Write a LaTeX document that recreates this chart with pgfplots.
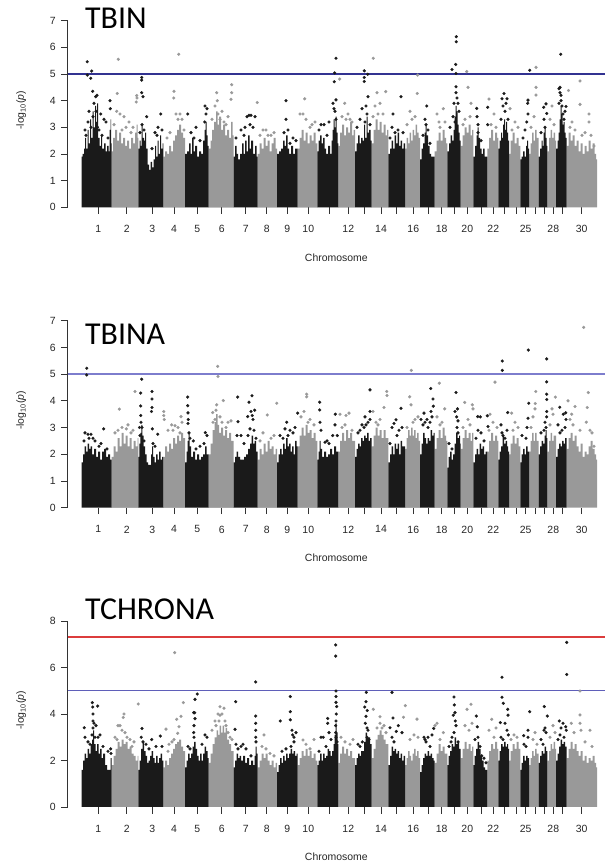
\documentclass[border=0pt]{standalone}
\usepackage{pgfplots}
\pgfplotsset{compat=1.18}
\usepackage{fontspec}
\setmainfont{Liberation Sans}
\newfontfamily\titlefont{Carlito}
\definecolor{blk}{HTML}{1A1A1A}
\definecolor{gry}{HTML}{999999}
\definecolor{bluelineA}{RGB}{50,50,145}
\definecolor{bluelineB}{RGB}{125,125,205}
\definecolor{bluelineC}{RGB}{95,95,185}
\definecolor{redlineC}{RGB}{220,60,60}
\pgfplotsset{
  manh/.style={
    scale only axis, width=537.3bp,
    xmin=67.7, xmax=605, ymin=0,
    axis x line*=bottom, axis y line*=left,
    x axis line style={draw=none},
    y axis line style={line width=0.8bp, black!80},
    xtick align=outside, ytick align=outside,
    major tick length=6.5bp,
    tick style={line width=0.8bp, black!80},
    xtick={98.3,126.7,152.3,174,197.3,221.7,245.7,266.7,287.3,308.3,329,348.3,364.3,381,396.7,413.3,428.3,441.7,454,467.3,481.7,493.3,504,516,525.7,535,544.3,553.3,562.3,581.7},
    xticklabels={1,2,3,4,5,6,7,8,9,10,,12,,14,,16,,18,,20,,22,,,25,,,28,,30},
    ticklabel style={font=\fontsize{10.5}{12}\selectfont, text=black!85},
    xticklabel style={yshift=-8bp},
    yticklabel style={xshift=-2bp},
    xlabel={Chromosome},
    ylabel={-log\textsubscript{10}(\textit{p})},
    label style={font=\fontsize{10.5}{12}\selectfont, text=black!85},
    xlabel style={at={(axis description cs:0.5,-0.268)}, anchor=center},
    ylabel style={at={(axis description cs:-0.0865,0.52)}, anchor=center},
  },
  barea/.style={const plot, fill=blk, draw=none},
  garea/.style={const plot, fill=gry, draw=none},
  bdot/.style={only marks, color=blk, mark=*, mark size=1.45, mark options={fill=blk, draw=blk, line width=0.3bp}},
  gdot/.style={only marks, color=gry, mark=*, mark size=1.45, mark options={fill=gry, draw=gry, line width=0.3bp}},
}
\begin{document}
\begin{tikzpicture}
\path[use as bounding box] (0,0) rectangle (605bp,865bp);
% ================= Panel 1: TBIN =================
\begin{axis}[manh, at={(67.7bp,657.7bp)}, anchor=south west, height=186.6bp, ymax=7,
  ytick={0,1,2,3,4,5,6,7}, yticklabels={0,1,2,3,4,5,6,7}]
\addplot[garea] coordinates {
(111.7,0)(111.7,2.1)(113,2.6)(115,2.9)(117,2.5)(119,2.8)(121,2.4)(123,2.6)(125,2.3)(127,2.5)(129,2.2)(131,2.6)(133,2.4)(135,2.8)(136.5,3.1)(137.5,2.6)(138.3,2.3)(138.3,0)
(163.3,0)(163.3,1.9)(165,2.1)(167,2.0)(169,2.3)(171,2.1)(173,2.5)(175,2.7)(177,2.9)(179,3.1)(181,2.8)(183,2.6)(185,2.2)(185,0)
(208.7,0)(208.7,2.2)(210.5,2.5)(212,2.9)(214,3.2)(216,3.6)(217.5,3.1)(219,3.4)(221,2.9)(223,3.1)(225,2.7)(227,2.9)(229,2.6)(231,3.2)(232.5,2.7)(233.7,2.3)(233.7,0)
(257.7,0)(257.7,2.0)(259.5,2.4)(261.5,2.2)(263.5,2.6)(265.5,2.3)(267.5,2.5)(269.5,2.1)(271.5,2.4)(273.5,2.6)(275.5,2.2)(277,2.0)(277,0)
(297.7,0)(297.7,2.2)(299.5,2.6)(301.5,2.9)(303.5,2.5)(305.5,2.8)(307.5,2.4)(309.5,2.7)(311.5,2.5)(313.5,2.8)(315.5,2.4)(317.3,2.2)(317.3,0)
(338.3,0)(338.3,2.3)(340,2.8)(342,3.1)(344,2.7)(346,3.0)(348,2.8)(350,3.2)(352,2.7)(353.5,2.9)(355,2.4)(355,0)
(371.7,0)(371.7,2.4)(373.5,2.9)(375.5,3.3)(377.5,2.9)(379.5,3.2)(381.5,2.8)(383.5,3.1)(385.5,2.7)(387,2.9)(388.3,2.4)(388.3,0)
(405,0)(405,2.2)(406.5,2.6)(408,2.4)(409.5,2.8)(411,2.5)(412.5,2.9)(414,2.7)(415.5,3.1)(417,2.8)(418.5,2.6)(420,2.2)(420,0)
(434.7,0)(434.7,2.1)(436.5,2.5)(438.5,2.8)(440.5,2.5)(442.5,2.9)(444.5,2.6)(446,2.4)(447.3,2.0)(447.3,0)
(460.7,0)(460.7,2.3)(462.5,2.7)(464.5,3.0)(466.5,2.8)(468.5,3.1)(470.5,2.7)(472,2.9)(473.3,2.4)(473.3,0)
(487.3,0)(487.3,2.2)(489,2.6)(491,2.9)(493,2.5)(495,2.8)(497,2.6)(498.3,2.3)(498.3,0)
(509,0)(509,2.0)(510.5,2.5)(512.5,2.8)(514.5,2.4)(516.5,2.6)(518.5,2.3)(520.3,2.0)(520.3,0)
(529,0)(529,2.0)(530.5,2.4)(532,2.8)(533.5,2.5)(535,2.9)(536.5,2.6)(538.7,2.2)(538.7,0)
(547.3,0)(547.3,2.1)(549,2.6)(550.5,2.9)(552,2.6)(553.5,2.8)(555,2.5)(556,2.2)(556,0)
(566.7,0)(566.7,2.3)(568.5,2.8)(570.5,2.5)(572.5,2.7)(574.5,2.3)(576.5,2.5)(578.5,2.1)(580.5,2.4)(582.5,2.0)(584.5,2.3)(586.5,2.1)(588.5,2.5)(590.5,2.2)(592.5,2.4)(594.5,2.0)(596,1.8)(597,1.5)(597,0)
} \closedcycle;
\addplot[barea] coordinates {
(81.7,0)(81.7,1.9)(82.5,2.0)(84,2.2)(85,2.6)(86,2.2)(87.5,2.9)(88.5,2.4)(90,3.3)(91,2.6)(92.5,3.6)(93.5,3.0)(95,3.8)(96,3.2)(97,3.9)(98,2.6)(99.5,2.3)(101,2.7)(102,2.2)(104,2.4)(105.5,2.1)(107,2.3)(108.5,2.1)(109.5,2.9)(110.5,3.3)(111.2,2.4)(111.7,2.0)(111.7,0)
(138.3,0)(138.3,2.2)(139.5,2.5)(140.5,2.3)(141.5,3.1)(142.5,2.6)(144,2.5)(145,2.8)(146,2.2)(147.5,1.6)(149,1.4)(150.5,1.7)(152,1.5)(153.5,1.8)(155,2.3)(156,1.9)(157.5,2.5)(158.5,2.0)(160,2.7)(161,2.2)(162.5,2.4)(163.3,1.9)(163.3,0)
(185,0)(185,2.0)(187,2.1)(189,2.4)(190.5,2.0)(192,2.6)(193.5,2.1)(195,2.3)(197,1.9)(199,2.1)(201,2.0)(203,2.5)(204.5,2.9)(205.5,3.2)(206.5,2.7)(207.5,2.3)(208.7,2.0)(208.7,0)
(233.7,0)(233.7,1.9)(235,2.3)(236.5,2.0)(238,1.8)(240,2.0)(242,2.4)(243.5,2.0)(245,2.5)(246.5,2.1)(248,2.7)(249.5,2.2)(251,2.5)(253,2.0)(255,2.3)(256.5,1.9)(257.7,1.8)(257.7,0)
(277,0)(277,2.0)(279,2.1)(281,2.2)(283,2.5)(284.5,2.3)(286,2.7)(287.5,2.2)(289,2.0)(291,2.3)(293,2.0)(295,2.2)(297.7,1.9)(297.7,0)
(317.3,0)(317.3,2.1)(318.5,2.5)(320,2.7)(321.5,2.4)(323,2.6)(324.5,2.2)(326,2.0)(328,2.3)(330,2.0)(331.5,2.5)(332.5,2.9)(333.5,3.3)(334.5,3.0)(335.5,3.4)(336.5,2.8)(337.5,2.4)(338.3,2.0)(338.3,0)
(355,0)(355,2.1)(356.5,2.4)(358,2.7)(359.5,2.4)(361,2.6)(362.5,2.5)(364,3.1)(365,2.6)(366.5,3.4)(367.5,2.8)(369,2.9)(370.5,2.5)(371.7,2.1)(371.7,0)
(388.3,0)(388.3,2.0)(390,2.2)(391.5,2.5)(393,2.2)(394.5,2.7)(396,2.4)(397.5,2.8)(399,2.3)(400.5,2.5)(402,2.2)(403.5,2.4)(405,2.0)(405,0)
(420,0)(420,1.8)(421.5,2.2)(423,2.4)(424.5,2.8)(425.5,3.1)(426.5,2.7)(428,2.3)(429.5,2.0)(431,1.9)(432.5,1.9)(434.7,1.7)(434.7,0)
(447.3,0)(447.3,2.1)(449,2.4)(450.5,2.7)(452,2.5)(453.5,2.9)(454.5,3.4)(455.5,3.8)(456.5,3.6)(457.5,3.1)(458.5,2.8)(459.5,2.5)(460.7,2.2)(460.7,0)
(473.3,0)(473.3,1.9)(475,2.3)(476.5,2.7)(477.5,3.0)(478.5,2.6)(480,2.2)(481.5,2.0)(483,2.2)(484.5,1.9)(486,1.9)(487.3,1.8)(487.3,0)
(498.3,0)(498.3,2.2)(499.5,2.5)(501,2.8)(502,2.6)(503,3.1)(504,3.3)(505,2.9)(506,3.2)(507,2.8)(508,2.5)(509,2.2)(509,0)
(520.3,0)(520.3,1.8)(521.5,1.9)(523,2.1)(524.5,1.9)(526,2.3)(527,2.5)(528,2.2)(529,1.9)(529,0)
(538.7,0)(538.7,1.9)(540,2.2)(541.5,2.5)(542.5,2.3)(543.5,2.8)(544.5,3.0)(545.5,2.6)(546.5,2.3)(547.3,1.9)(547.3,0)
(556,0)(556,2.2)(557.5,2.5)(558.5,2.8)(559.5,3.3)(560.5,3.8)(561.5,3.5)(562.5,3.1)(563.5,3.2)(564.5,2.8)(565.5,2.6)(566.7,2.2)(566.7,0)
} \closedcycle;
\addplot[gdot] coordinates {
(118.3,5.55)(117.3,4.27)(116.7,3.6)(120,3.5)(124,3.4)(129,3.2)(133,3.0)(136.7,4.19)(136.3,3.95)(137,4.1)(114,3.1)(126,3.0)(122,2.9)(131,2.8)
(178.7,5.74)(174,4.35)(173.7,4.1)(176,3.5)(180,3.5)(182,3.3)(170,2.8)(167,2.6)(178,3.3)(184,2.9)
(216.7,4.3)(217.3,4.0)(215,3.8)(218,3.5)(220,3.3)(224,3.2)(231.7,4.6)(231.7,4.3)(231,4.05)(228,3.4)(212,3.3)(222,3.6)(226,3.1)
(257.3,3.93)(263,2.9)(268,2.7)(274,2.8)(260,2.7)(266,2.9)(271,2.7)
(304.7,4.07)(303,3.5)(300,3.5)(310,3.0)(315,3.2)(306,3.3)(312,3.1)
(339.7,4.81)(344.7,3.9)(348,3.5)(350,3.3)(352,3.2)(342,3.4)(346,3.3)
(373.3,5.59)(377,4.3)(385.7,4.34)(375,3.8)(380,3.9)(373,3.4)(383,3.5)(378,3.5)
(417.7,4.96)(417.3,4.27)(410,3.6)(415,3.4)(407,3.1)(412,3.3)
(443.3,3.7)(440,3.0)(437,3.5)(445,3.2)(439,3.2)
(466.7,5.09)(468,4.5)(471,3.9)(465,3.3)(463,3.1)(470,3.4)
(489,4.06)(494,3.5)(491,3.1)(496,3.0)
(510,3.7)(515,3.2)(518,3.0)(512,2.9)
(536,5.25)(536,4.5)(536,4.21)(534,3.4)(531,3.0)
(552,3.8)(550,3.3)(554,3.1)
(580,4.74)(580,3.86)(589,3.5)(589,3.2)(568.5,4.38)(575,2.9)(594,2.3)(572,3.2)(585,2.8)(591,2.7)(570,3.0)(582,2.7)
};
\addplot[bdot] coordinates {
(87.3,5.46)(87.3,4.96)(91.7,5.11)(90.7,4.84)(92.7,4.35)(95.7,4.15)(97,4.2)(110,4.0)(110.3,3.7)(104,3.3)(106,3.2)(100.7,3.5)(89,3.6)(94,3.9)(96,3.6)(91,3.0)(99,2.9)(102,2.7)(85,2.9)(93,3.4)(97.5,3.0)(88,3.2)(86,2.7)(108,2.6)
(141.7,4.87)(141.7,4.77)(141.7,4.3)(143,4.15)(146.7,3.4)(142,3.1)(155,2.8)(158,3.0)(160.7,3.5)(144,2.9)(152,2.2)(162,2.9)(140,2.8)(157,2.7)
(187.7,3.5)(196,3.0)(205,3.8)(207,3.7)(206,3.5)(204.7,3.2)(191,2.8)(200,2.5)(194,2.6)
(241,2.9)(245,3.0)(247,3.4)(249,3.45)(251,3.45)(255,3.4)(244,2.7)(250,3.1)(236,2.6)(253,3.0)
(286,4.0)(286,3.3)(284,2.8)(290,2.4)(293,2.6)(288,2.9)(296,2.5)
(336,5.59)(334.7,5.04)(334.3,4.71)(336,4.03)(321,3.1)(324,3.1)(329,3.2)(335,3.6)(336,3.3)(333,3.9)(319,2.9)(327,2.7)(334,3.7)
(364.3,5.12)(367.7,4.99)(364.3,4.87)(364.3,4.72)(368,4.15)(366,3.8)(362,3.7)(360,3.3)(367,3.5)(357,3.0)(370,3.1)(365,3.2)
(401,4.15)(393,3.5)(392,3.0)(398,2.9)(395,2.8)(390,2.6)(403,2.8)
(426.7,3.8)(425,3.3)(426,3.1)(428,2.9)(423,2.7)(430,2.4)
(456.3,6.4)(456.3,6.21)(455.7,5.36)(452,5.17)(456,5.02)(456,4.52)(456,4.3)(458,3.9)(459,3.6)(455,3.2)(453,3.4)(450,3.0)(457,4.1)(454,3.9)
(476.7,3.71)(477,3.4)(478,3.1)(478,2.8)(487.7,3.75)(487.7,3.1)(481,2.5)
(504,4.27)(502,4.07)(507,4.07)(505,3.6)(508,3.3)(501,3.3)(503,3.8)(506,3.9)
(529.7,5.14)(528,4.02)(527.7,3.9)(526.7,3.2)(525,2.9)(523,2.6)(528,3.5)
(546,3.88)(546.7,3.52)(543.7,3.75)(544,3.3)(545,3.0)(541,2.8)
(560.7,5.74)(560,4.5)(560,4.3)(561,4.0)(562,3.8)(563,3.5)(564,3.3)(566,3.78)(565,3.6)(559,4.45)(561,4.2)(559,3.9)
};
\addplot[color=bluelineA, line width=1.3bp] coordinates {(67.7,5)(605,5)};
\end{axis}
\node[anchor=base west, inner sep=0pt, font=\titlefont\fontsize{32}{38}\selectfont] at (85bp,836.7bp) {TBIN};
% ================= Panel 2: TBINA =================
\begin{axis}[manh, at={(67.7bp,357.3bp)}, anchor=south west, height=187bp, ymax=7,
  ytick={0,1,2,3,4,5,6,7}, yticklabels={0,1,2,3,4,5,6,7}]
\addplot[garea] coordinates {
(111.7,0)(111.7,1.9)(113.5,2.3)(115.5,2.1)(117.5,2.6)(119.5,2.3)(121.5,2.8)(123.5,2.4)(125.5,2.7)(127.5,2.3)(129.5,2.6)(131.5,2.2)(133.5,2.5)(135.5,2.3)(137.5,2.6)(138.3,2.2)(138.3,0)
(163.3,0)(163.3,1.9)(165,2.3)(167,2.1)(169,2.4)(171,2.2)(173,2.6)(175,2.4)(177,2.7)(179,2.5)(181,2.8)(183,2.6)(185,2.2)(185,0)
(208.7,0)(208.7,2.0)(210.5,2.4)(212.5,2.9)(214.5,3.2)(216,3.5)(217.5,3.1)(219,2.8)(221,3.0)(223,2.7)(225,2.9)(227,2.6)(229,2.8)(231,2.5)(233.7,2.2)(233.7,0)
(257.7,0)(257.7,1.8)(259.5,2.2)(261.5,2.0)(263.5,2.4)(265.5,2.1)(267.5,2.5)(269.5,2.2)(271.5,2.3)(273.5,2.0)(275.5,2.2)(277,1.9)(277,0)
(297.7,0)(297.7,2.3)(299.5,2.7)(301.5,3.0)(303.5,2.7)(305.5,3.1)(307.5,2.8)(309.5,2.9)(311.5,2.6)(313.5,2.8)(315.5,2.5)(317.3,2.3)(317.3,0)
(338.3,0)(338.3,2.1)(340,2.5)(342,2.8)(344,2.5)(346,2.9)(348,2.6)(350,2.8)(352,2.5)(355,2.2)(355,0)
(371.7,0)(371.7,2.3)(373.5,2.7)(375.5,3.0)(377.5,2.7)(379.5,2.9)(381.5,2.6)(383.5,2.9)(385.5,2.6)(388.3,2.3)(388.3,0)
(405,0)(405,2.2)(406.5,2.6)(408,2.9)(409.5,2.7)(411,3.0)(412.5,2.7)(414,2.9)(415.5,2.6)(417,2.8)(418.5,2.5)(420,2.2)(420,0)
(434.7,0)(434.7,2.2)(436.5,2.6)(438.5,2.9)(440.5,2.6)(442.5,3.0)(444.5,2.7)(446,2.5)(447.3,2.1)(447.3,0)
(460.7,0)(460.7,2.2)(462.5,2.6)(464.5,2.9)(466.5,2.6)(468.5,2.8)(470.5,2.5)(472,2.8)(473.3,2.3)(473.3,0)
(487.3,0)(487.3,2.1)(489,2.5)(491,2.8)(493,2.5)(495,2.7)(497,2.5)(498.3,2.1)(498.3,0)
(509,0)(509,2.0)(510.5,2.4)(512.5,2.7)(514.5,2.4)(516.5,2.6)(518.5,2.3)(520.3,2.0)(520.3,0)
(529,0)(529,2.1)(530.5,2.5)(532,2.8)(533.5,2.5)(535,2.8)(536.5,2.5)(538.7,2.1)(538.7,0)
(547.3,0)(547.3,2.1)(549,2.5)(550.5,2.8)(552,2.5)(553.5,2.7)(556,2.2)(556,0)
(566.7,0)(566.7,2.2)(568.5,2.6)(570.5,2.8)(572.5,2.5)(574.5,2.7)(576.5,2.3)(578.5,2.1)(580.5,2.4)(582.5,1.9)(584.5,2.1)(586.5,2.0)(588.5,2.3)(590.5,2.5)(592.5,2.2)(594.5,2.0)(596,1.8)(597,1.5)(597,0)
} \closedcycle;
\addplot[barea] coordinates {
(81.7,0)(81.7,1.7)(83,2.0)(84.5,2.3)(86,2.1)(87.5,2.4)(89,2.2)(90.5,2.3)(92,2.0)(94,2.2)(96,1.9)(98,2.1)(100,1.8)(102,2.1)(104,2.2)(106,1.9)(108,2.0)(110,1.8)(111.7,1.7)(111.7,0)
(138.3,0)(138.3,1.9)(139.3,2.4)(140.3,2.8)(141.3,3.1)(142.3,2.7)(143.5,2.3)(145,2.0)(146.5,1.7)(148,1.6)(149.5,1.6)(151,2.0)(152,2.3)(153,1.9)(154.5,1.7)(156,2.0)(157.5,1.8)(159,2.1)(160.5,1.8)(162,1.9)(163.3,1.7)(163.3,0)
(185,0)(185,1.7)(186.5,2.1)(187.5,2.5)(188.5,2.8)(189.5,2.3)(191,1.9)(193,2.1)(195,1.8)(197,2.0)(199,1.8)(201,1.9)(203,2.0)(205,2.3)(206.5,2.0)(208.7,1.7)(208.7,0)
(233.7,0)(233.7,1.7)(235,1.9)(236.5,2.1)(238,1.9)(240,1.8)(242,1.8)(244,1.9)(246,2.0)(248,2.2)(250,2.4)(251.5,2.7)(253,2.4)(254.5,2.5)(256,2.1)(257.7,1.8)(257.7,0)
(277,0)(277,1.7)(278.5,2.0)(280,2.2)(281.5,2.0)(283,2.4)(284.5,2.2)(286,2.6)(287.5,2.3)(289,2.4)(290.5,2.1)(292,2.3)(293.5,2.0)(295,2.5)(296.5,2.3)(297.7,2.0)(297.7,0)
(317.3,0)(317.3,1.8)(318.5,2.1)(319.5,2.5)(320.5,2.2)(322,1.9)(324,2.1)(326,1.9)(328,2.0)(330,2.2)(332,2.0)(334,2.3)(336,2.1)(338.3,1.8)(338.3,0)
(355,0)(355,1.9)(356.5,2.2)(358,2.4)(359.5,2.3)(361,2.6)(362.5,2.5)(364,2.7)(365.5,2.6)(367,2.8)(368.5,2.5)(370,2.6)(371.7,2.1)(371.7,0)
(388.3,0)(388.3,1.7)(390,2.0)(391.5,2.3)(393,2.0)(394.5,2.4)(396,2.2)(397.5,2.4)(399,2.0)(400.5,2.5)(402,2.3)(403.5,2.3)(405,2.0)(405,0)
(420,0)(420,2.0)(421.5,2.4)(423,2.8)(424.5,2.6)(426,2.4)(427.5,2.6)(429,2.5)(430.5,2.9)(432,2.7)(433.5,2.8)(434.7,2.3)(434.7,0)
(447.3,0)(447.3,1.5)(448.5,1.9)(450,2.1)(451.5,1.8)(453,2.0)(454.5,2.4)(456,2.8)(457.5,2.6)(459,2.7)(460,2.4)(460.7,2.0)(460.7,0)
(473.3,0)(473.3,1.7)(475,2.0)(476.5,2.2)(478,2.0)(479.5,2.4)(481,2.2)(482.5,2.3)(484,2.0)(485.5,2.1)(487.3,1.8)(487.3,0)
(498.3,0)(498.3,1.8)(499.5,2.1)(501,2.3)(502.5,2.7)(504,2.4)(505.5,2.5)(507,2.3)(508,2.1)(509,1.8)(509,0)
(520.3,0)(520.3,1.7)(521.5,2.0)(523,2.2)(524.5,2.0)(526,2.3)(527.5,2.1)(529,1.8)(529,0)
(538.7,0)(538.7,2.0)(540,2.3)(541.5,2.5)(543,2.4)(544.5,2.7)(545.5,2.9)(546.5,2.6)(547.3,2.2)(547.3,0)
(556,0)(556,1.9)(557.5,2.2)(559,2.4)(560.5,2.3)(562,2.5)(563.5,2.4)(565,2.6)(566.7,2.2)(566.7,0)
} \closedcycle;
\addplot[gdot] coordinates {
(119.3,3.69)(126.3,2.95)(131,2.8)(135,4.35)(115,2.8)(122,3.0)(128,3.1)(118,2.9)(133,2.9)
(163.8,3.6)(163.8,3.45)(164.3,3.3)(171.7,3.1)(175,3.07)(178,3.0)(181,3.41)(182,3.2)(180,2.8)(168,2.9)(173,2.9)
(217.7,5.29)(218,4.91)(223.3,4.01)(216.7,3.85)(216,3.65)(212.7,3.56)(215,3.3)(228,3.2)(231,3.25)(226,3.0)(220,3.4)(213,3.2)(222,3.2)
(267.3,3.47)(276.7,3.91)(263,2.8)(271,2.6)(274,2.7)(260,2.5)
(306.7,4.25)(306.7,4.15)(301,3.4)(304,3.6)(310,3.3)(314,3.1)(308,3.2)
(340,3.5)(346,3.45)(349,3.54)(345,3.1)(352,2.9)(342,3.0)
(386.7,4.35)(387,4.2)(384,3.75)(380,3.3)(376,3.2)(373,3.6)(378,3.1)
(411.3,5.14)(409.7,4.15)(411,3.85)(415,3.3)(418,3.4)(407,3.0)(413,3.2)
(439.3,4.66)(444.7,3.7)(437,3.4)(442,3.2)(440,3.1)
(464.7,3.94)(472.3,3.85)(473,3.7)(468,3.3)(470,3.1)(463,3.0)
(495,4.7)(490,3.5)(493,3.2)(497,3.0)(489,2.9)
(511.7,3.54)(515,3.2)(518,3.0)(513,2.9)
(535.7,4.35)(535.3,3.9)(535,3.7)(533,3.4)(531,3.0)
(555.3,4.14)(552,3.7)(553,3.5)(550,3.1)
(583.7,6.75)(588.3,4.31)(587.3,3.75)(586.3,3.2)(571.7,3.5)(575,3.79)(570,3.3)(580,2.9)(592,2.8)(594,2.3)(568,4.0)(573,3.1)(590,2.9)
};
\addplot[bdot] coordinates {
(86.7,5.22)(86.7,4.97)(85,2.8)(88,2.75)(91,2.75)(103.7,2.95)(95,2.5)(99,2.3)(107,2.2)(93,2.6)(84,2.5)(89,2.6)(101,2.4)
(141.7,4.81)(140.7,4.29)(140.7,3.81)(140.7,3.45)(141,3.2)(142,3.0)(152,4.35)(152,4.07)(152,3.75)(151.5,3.6)(152.3,2.95)(157.7,2.75)(153,2.4)(140,2.7)(144,2.5)(139.5,3.0)(155,2.3)
(187.7,4.14)(187.7,3.82)(188,3.55)(188.3,3.3)(188,3.15)(189,2.8)(190,2.6)(193.3,2.5)(205.3,2.81)(207,2.7)(204,2.4)(196,2.2)(200,2.3)
(237.7,4.14)(238,3.22)(249,3.95)(252,4.19)(251,3.6)(252.3,3.45)(253,3.3)(254.7,3.65)(247.7,3.41)(250,2.95)(254,2.9)(256,2.6)(241,2.7)(244,2.4)(237,2.7)(248,2.7)
(297.7,3.54)(286.7,3.2)(285,2.95)(290,2.9)(293,2.8)(280,2.7)(295,3.0)(283,2.6)(288,2.7)
(319.7,3.95)(319.7,3.66)(320,3.2)(325,2.45)(327,2.5)(332.7,2.7)(335.3,3.5)(337.3,2.7)(329,2.4)(321,2.9)(335,3.1)
(370,4.41)(370,3.6)(370,3.3)(362,3.1)(364,3.0)(366,3.1)(368,3.2)(360,2.9)(365,3.4)(358,2.8)
(401,3.72)(396,3.29)(392,3.0)(394,3.15)(399,2.9)(402,3.0)(390,2.4)(397,2.7)
(430.7,4.46)(433,4.07)(424,3.54)(421,3.3)(425,3.2)(428,3.0)(431,3.6)(432,3.4)(433.3,3.8)(423,3.1)(427,3.3)(430,3.2)
(456,4.31)(456.7,3.4)(458,3.25)(457,3.0)(458,2.8)(449,2.4)(452,2.2)(455,3.6)(457.5,3.7)
(477.7,3.41)(480.3,3.4)(487.3,3.44)(488,3.04)(476,2.6)(481,2.8)(484,2.5)(478,2.9)
(502.3,5.49)(502.3,5.14)(507.7,3.56)(502,2.8)(503,2.7)(505,2.6)(507,2.9)(501,3.1)
(528.3,5.9)(528.7,3.91)(528,3.35)(522,2.7)(526,2.6)(527,3.0)
(546.7,5.57)(546.7,4.71)(546.7,4.25)(546.7,4.05)(546.7,3.6)(546.7,3.4)(546,3.0)(544,2.9)(541,2.8)(545,3.2)
(559.7,3.76)(563.3,3.5)(565.7,3.55)(566,3.3)(565,3.0)(562,2.9)(560,2.8)(558,3.1)
};
\addplot[color=bluelineB, line width=1.3bp] coordinates {(67.7,5)(605,5)};
\end{axis}
\node[anchor=base west, inner sep=0pt, font=\titlefont\fontsize{32}{38}\selectfont] at (85bp,520.7bp) {TBINA};
% ================= Panel 3: TCHRONA =================
\begin{axis}[manh, at={(67.7bp,58bp)}, anchor=south west, height=186bp, ymax=8,
  ytick={0,2,4,6,8}, yticklabels={0,2,4,6,8}]
\addplot[garea] coordinates {
(111.7,0)(111.7,1.8)(113.5,2.2)(115.5,2.5)(117.5,2.8)(119.5,2.6)(121.5,2.9)(123.5,2.7)(125.5,2.8)(127.5,2.5)(129.5,2.6)(131.5,2.3)(133.5,2.2)(135.5,2.0)(137.5,2.2)(138.3,1.9)(138.3,0)
(163.3,0)(163.3,1.7)(165,2.0)(167,1.8)(169,2.1)(171,2.3)(173,2.5)(175,2.7)(177,2.8)(179,2.9)(181,2.6)(183,2.4)(185,2.1)(185,0)
(208.7,0)(208.7,1.9)(210.5,2.3)(212.5,2.7)(214.5,3.0)(216.5,3.3)(218,3.1)(219.5,3.5)(221,3.2)(222.5,3.5)(224,3.2)(225.5,3.4)(227,2.9)(229,2.7)(231,2.4)(233.7,2.0)(233.7,0)
(257.7,0)(257.7,1.7)(259.5,2.0)(261.5,2.3)(263.5,2.1)(265.5,2.3)(267.5,2.0)(269.5,1.8)(271.5,2.0)(273.5,1.7)(275.5,1.9)(277,1.6)(277,0)
(297.7,0)(297.7,1.8)(299.5,2.1)(301.5,2.4)(303.5,2.2)(305.5,2.5)(307.5,2.2)(309.5,2.4)(311.5,2.1)(313.5,2.3)(315.5,2.0)(317.3,1.8)(317.3,0)
(338.3,0)(338.3,1.9)(340,2.3)(342,2.6)(344,2.3)(346,2.5)(348,2.2)(350,2.4)(352,2.1)(355,1.8)(355,0)
(371.7,0)(371.7,2.1)(373.5,2.5)(375.5,2.9)(377.5,3.1)(379.5,3.3)(381.5,3.1)(383.5,2.9)(385.5,2.7)(388.3,2.3)(388.3,0)
(405,0)(405,1.8)(406.5,2.1)(408,2.4)(409.5,2.2)(411,2.0)(412.5,2.3)(414,2.5)(415.5,2.2)(417,2.4)(418.5,2.1)(420,1.8)(420,0)
(434.7,0)(434.7,1.9)(436.5,2.3)(438.5,2.7)(440.5,2.4)(442.5,2.6)(444.5,2.3)(447.3,2.0)(447.3,0)
(460.7,0)(460.7,2.1)(462.5,2.5)(464.5,2.8)(466.5,2.5)(468.5,2.7)(470.5,2.4)(472,2.6)(473.3,2.1)(473.3,0)
(487.3,0)(487.3,2.0)(489,2.4)(491,2.7)(493,2.5)(495,2.8)(497,2.5)(498.3,2.1)(498.3,0)
(509,0)(509,2.0)(510.5,2.4)(512.5,2.7)(514.5,2.5)(516.5,2.8)(518.5,2.5)(520.3,2.1)(520.3,0)
(529,0)(529,1.8)(530.5,2.1)(532,2.4)(533.5,2.2)(535,2.5)(536.5,2.3)(538.7,1.9)(538.7,0)
(547.3,0)(547.3,2.0)(549,2.4)(550.5,2.7)(552,2.5)(553.5,2.8)(555,2.5)(556,2.1)(556,0)
(566.7,0)(566.7,2.1)(568.5,2.5)(570.5,2.8)(572.5,2.5)(574.5,2.7)(576.5,2.4)(578.5,2.2)(580.5,2.4)(582.5,2.0)(584.5,2.2)(586.5,1.9)(588.5,2.1)(590.5,2.0)(592.5,2.2)(594.5,1.9)(596,1.7)(597,1.4)(597,0)
} \closedcycle;
\addplot[barea] coordinates {
(81.7,0)(81.7,1.6)(83,2.0)(84.5,2.3)(86,2.1)(87.5,2.5)(89,2.3)(90.5,2.7)(92,2.9)(93,3.3)(94,2.7)(95.5,2.4)(97,2.7)(98.5,2.3)(100,2.5)(101.5,2.1)(103,2.3)(105,1.8)(107,1.6)(109,1.6)(110.5,2.1)(111.7,1.8)(111.7,0)
(138.3,0)(138.3,1.6)(139.5,2.0)(141,2.5)(142.5,2.8)(144,2.4)(145.5,2.2)(147,1.9)(148.5,2.0)(150,2.2)(151.5,2.4)(153,2.1)(154.5,1.9)(156,2.2)(157.5,1.9)(159,2.1)(160.5,2.3)(162,2.0)(163.3,1.8)(163.3,0)
(185,0)(185,1.7)(186.5,2.0)(188,2.3)(189.5,2.1)(191,2.3)(192.5,2.6)(194,2.8)(195.5,2.5)(197,2.2)(198.5,2.0)(200,2.3)(201.5,2.0)(203,2.3)(204.5,2.6)(206,2.4)(207.5,2.1)(208.7,1.8)(208.7,0)
(233.7,0)(233.7,1.7)(235,2.0)(236.5,2.3)(238,2.1)(239.5,2.2)(241,2.0)(243,2.2)(245,1.9)(247,2.1)(249,1.8)(251,2.0)(253,1.8)(254.5,2.2)(255.5,2.6)(256.5,2.3)(257.7,1.8)(257.7,0)
(277,0)(277,1.5)(278.5,1.8)(280,2.1)(281.5,1.9)(283,2.2)(284.5,2.0)(286,2.3)(287.5,2.1)(289,2.3)(290.5,2.5)(292,2.3)(293.5,2.4)(295,2.2)(296.5,2.3)(297.7,2.0)(297.7,0)
(317.3,0)(317.3,1.8)(318.5,2.0)(320,2.3)(321.5,2.0)(323,2.3)(324.5,2.1)(326,2.2)(327.5,2.5)(329,2.4)(330.5,2.2)(332,2.4)(333.5,2.7)(334.5,3.1)(335.5,3.6)(336.5,3.2)(337.5,2.7)(338.3,2.2)(338.3,0)
(355,0)(355,1.8)(356.5,2.1)(358,2.3)(359.5,2.2)(361,2.4)(362.5,2.4)(364,2.8)(365.5,3.2)(367,3.0)(368.5,3.0)(370,2.7)(371.7,2.2)(371.7,0)
(388.3,0)(388.3,1.8)(390,2.2)(391.5,2.6)(393,2.4)(394.5,2.5)(396,2.3)(397.5,2.4)(399,2.1)(400.5,2.3)(402,2.0)(403.5,2.2)(405,1.8)(405,0)
(420,0)(420,1.5)(421.5,1.8)(423,2.1)(424.5,2.3)(426,2.2)(427.5,2.4)(429,2.2)(430.5,2.3)(432,2.1)(433.5,2.0)(434.7,1.7)(434.7,0)
(447.3,0)(447.3,1.8)(448.5,2.2)(450,2.4)(451.5,2.7)(453,2.6)(454.5,3.0)(456,2.7)(457.5,2.8)(459,2.5)(460.7,2.1)(460.7,0)
(473.3,0)(473.3,1.8)(474.5,2.2)(476,2.5)(477.5,2.8)(479,2.5)(480.5,2.2)(482,2.0)(483.5,1.7)(485,1.6)(487.3,1.6)(487.3,0)
(498.3,0)(498.3,2.0)(499.5,2.4)(501,2.7)(502.5,2.6)(504,2.8)(505.5,2.6)(507,2.7)(508,2.5)(509,2.1)(509,0)
(520.3,0)(520.3,1.6)(521.5,1.9)(523,2.2)(524.5,2.0)(526,2.2)(527.5,2.1)(529,1.8)(529,0)
(538.7,0)(538.7,1.9)(540,2.2)(541.5,2.4)(543,2.3)(544.5,2.6)(546,2.4)(547.3,2.0)(547.3,0)
(556,0)(556,2.0)(557.5,2.3)(559,2.6)(560.5,2.9)(562,2.7)(563.5,2.8)(565,2.6)(566.7,2.2)(566.7,0)
} \closedcycle;
\addplot[gdot] coordinates {
(138.3,4.43)(124,4.0)(123.3,3.85)(120,3.5)(118,3.5)(122,3.3)(127,3.0)(130,2.9)(134,2.8)(115,3.0)(117,2.9)(125,3.2)(132,2.6)
(174.7,6.64)(183.3,4.49)(181,3.9)(179,3.45)(177.7,3.17)(176.7,3.77)(174,2.9)(168,2.4)(169,2.7)(166,3.35)(172,2.8)
(220,4.31)(224,4.25)(218,4.0)(220,3.95)(222,4.0)(215,3.7)(216,3.5)(225,3.7)(228,3.2)(212,3.3)(230,3.0)(232,2.9)(219,3.7)(226,3.5)
(264,3.1)(262,2.6)(266,2.5)(270,2.3)(274,2.2)
(303,2.88)(314,2.9)(306,2.7)(310,2.5)
(341,3.0)(345,2.8)(350,2.7)(353,2.9)
(373.3,4.2)(380,3.88)(380,3.6)(377,3.4)(384,3.5)(386,3.2)(382,3.4)
(405.3,4.36)(403.5,3.86)(417,3.78)(414,3.1)(410,2.9)(418,3.0)
(437,3.6)(435,3.5)(443.3,3.2)(440,2.9)
(471,4.42)(467,4.2)(465,3.5)(469,3.3)(472,3.6)
(491.7,3.77)(489,3.3)(494,3.0)(496,3.4)
(514,3.1)(517,3.0)(511,2.9)
(535,3.2)(533,2.9)(537,2.7)
(553,3.5)(555,3.2)(550,3.0)
(580,4.99)(580,3.96)(580,3.6)(581,3.3)(590,3.3)(571.3,3.6)(574,3.2)(585,2.8)(592,2.6)
};
\addplot[bdot] coordinates {
(92.3,4.49)(92.7,4.3)(97.7,4.34)(93,4.0)(93,3.7)(93,3.4)(92,3.1)(95,3.0)(84.3,3.41)(85,3.0)(88,2.8)(90,2.7)(100,3.1)(103,2.6)(108,2.4)(110.7,2.5)(111,2.3)(96,3.5)(94,3.6)(98,3.0)
(142,3.38)(141.3,3.0)(143,2.8)(146,2.7)(151.7,2.9)(156,2.6)(160.3,3.05)(162,2.6)(149,2.5)
(197.3,4.86)(195,4.63)(193.7,4.06)(194.7,4.05)(195,3.8)(194,3.5)(193.7,3.2)(194,3.0)(205,3.1)(207,3.0)(202,2.7)(188,2.6)(190,2.5)
(235.7,4.53)(235,3.34)(236,2.7)(238,2.5)(241,2.6)(243,2.7)(246,2.5)(251,2.2)(255.7,3.91)(255.7,3.6)(255.7,3.3)(255.7,3.0)(256,2.8)(255.7,5.38)
(290.3,4.75)(290.3,4.1)(290.3,3.75)(280.3,3.7)(292,3.3)(292.7,3.1)(294,3.0)(296,3.2)(294,2.8)(291,2.6)(286,2.5)(282,2.4)
(335.7,6.97)(335.7,6.49)(336,4.99)(336,4.75)(336,4.5)(336.7,4.32)(336.3,4.0)(336,3.7)(335.7,3.5)(335.7,3.2)(336,3.0)(337,2.8)(327.7,3.81)(327.7,3.6)(321,3.0)(323.3,3.0)(329,3.2)(331,2.9)(326,2.6)(319,2.4)
(366.3,4.93)(366,4.53)(364.7,4.3)(367.3,4.15)(366,3.9)(365.3,3.6)(367,3.4)(368,3.3)(367,3.0)(369,2.9)(358,2.7)(360,2.6)(362.3,2.8)
(392,4.93)(393,3.83)(390,3.41)(396.3,3.25)(398.3,3.5)(392,3.0)(394,2.8)(402,3.2)
(433.7,3.38)(428,3.0)(425,2.9)(424,3.0)(426,2.8)(430,2.6)(432,3.1)
(454,4.73)(454.3,4.39)(455,4.06)(453.3,3.95)(455.3,3.7)(456,3.5)(454,3.2)(452,3.0)(458,2.8)(449,2.6)(451,2.8)
(476.3,3.91)(477.3,3.45)(478,3.0)(480,2.6)(481.7,2.2)(484,2.1)(486,1.9)(475,2.9)
(502,5.58)(502,4.72)(503.3,4.46)(507.7,4.2)(508,3.95)(500.3,3.63)(505,3.6)(507,3.3)(508.3,3.1)(501,3.0)(503,2.9)
(529.7,4.1)(528,3.3)(523.7,3.07)(528,3.0)(524,2.7)(526,2.6)
(544.3,4.32)(547.3,3.91)(545,3.4)(544,3.3)(546,3.2)(541,2.9)(543,2.7)
(566.7,7.08)(566.7,5.7)(559.3,3.7)(563,3.6)(565.7,3.45)(566.3,3.3)(561,3.4)(560,3.1)(558,2.9)(564,3.0)
};
\addplot[color=bluelineC, line width=1.3bp] coordinates {(67.7,5)(605,5)};
\addplot[color=redlineC, line width=1.6bp] coordinates {(67.7,7.3)(605,7.3)};
\end{axis}
\node[anchor=base west, inner sep=0pt, font=\titlefont\fontsize{32}{38}\selectfont] at (85bp,245.7bp) {TCHRONA};
\end{tikzpicture}
\end{document}
